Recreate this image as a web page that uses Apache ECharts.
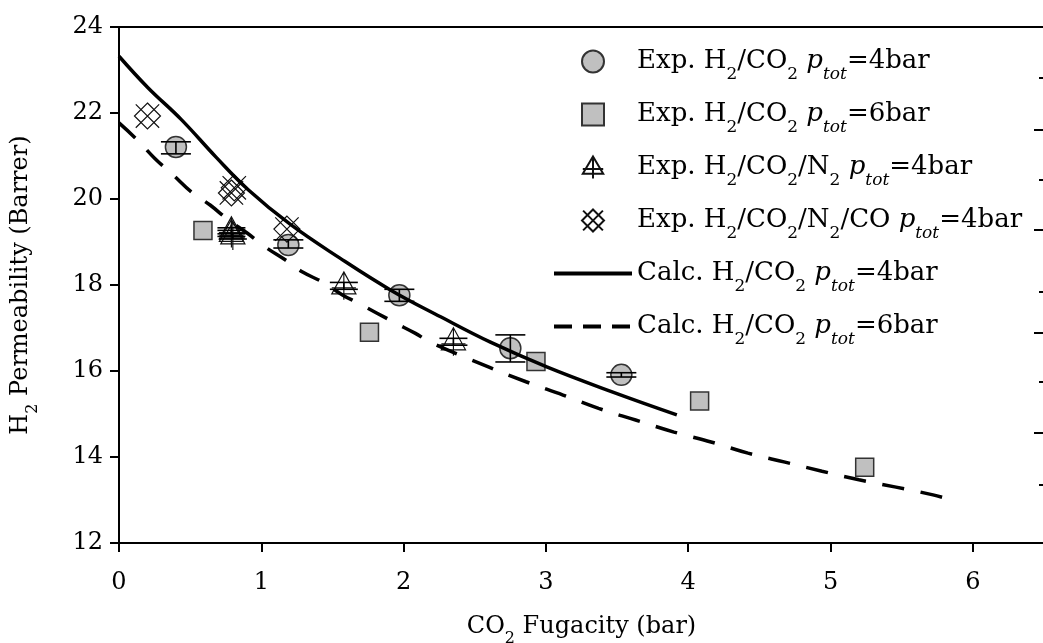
<!DOCTYPE html>
<html>
<head>
<meta charset="utf-8">
<script src="https://cdn.jsdelivr.net/npm/echarts@6/dist/echarts.min.js"></script>
<style>
html,body{margin:0;padding:0;background:#fff;}
#chart{width:1043px;height:643px;}
</style>
</head>
<body>
<div id="chart"></div>
<script>
// ---- Data ----
const xTicks = [0, 1, 2, 3, 4, 5, 6];
const yTicks = [12, 14, 16, 18, 20, 22, 24];

// Exp. H2/CO2 ptot=4bar : [fugacity, permeability, errLow, errHigh]
const exp4 = [
  [0.40, 21.21, 21.05, 21.33],
  [1.19, 18.93, 18.86, 19.05],
  [1.97, 17.76, 17.62, 17.90],
  [2.75, 16.53, 16.21, 16.84],
  [3.53, 15.91, 15.86, 15.96]
];
// Exp. H2/CO2 ptot=6bar
const exp6 = [
  [0.59, 19.27],
  [1.76, 16.90],
  [2.93, 16.22],
  [4.08, 15.30],
  [5.24, 13.76]
];
// Exp. H2/CO2/N2 ptot=4bar : [x, y, errLow, errHigh]
const expN2 = [
  [0.79, 19.26, 19.19, 19.33],
  [0.79, 19.20, 19.13, 19.27],
  [0.80, 19.14, 19.07, 19.21],
  [1.58, 17.98, 17.90, 18.06],
  [2.35, 16.68, 16.60, 16.76]
];
// Exp. H2/CO2/N2/CO ptot=4bar
const expCO = [
  [0.20, 21.93],
  [0.79, 20.14],
  [0.81, 20.26],
  [1.18, 19.30]
];
// Calc. H2/CO2 ptot=4bar
const calc4 = [
  [0, 23.32], [0.20, 22.60], [0.44, 21.84], [0.68, 20.98], [0.91, 20.21],
  [1.20, 19.42], [1.55, 18.63], [1.91, 17.88], [2.26, 17.26], [2.61, 16.67],
  [3.01, 16.09], [3.47, 15.51], [3.92, 14.98]
];
// Calc. H2/CO2 ptot=6bar
const calc6 = [
  [0, 21.77], [0.13, 21.37], [0.25, 20.95], [0.38, 20.56], [0.51, 20.16],
  [0.64, 19.86], [0.77, 19.51], [0.90, 19.21], [1.03, 18.88], [1.17, 18.58],
  [1.29, 18.30], [1.43, 18.07], [1.57, 17.77], [1.68, 17.58], [1.81, 17.35],
  [1.94, 17.12], [2.08, 16.88], [2.20, 16.65], [2.60, 16.09], [2.86, 15.75],
  [3.12, 15.44], [3.37, 15.13], [3.63, 14.86], [3.90, 14.58], [4.16, 14.35],
  [4.42, 14.09], [4.68, 13.88], [4.94, 13.67], [5.20, 13.47], [5.46, 13.30],
  [5.72, 13.12], [5.83, 13.02]
];
// right-hand frame ticks (values on the left scale)
const rightMajorTicks = [21.60, 19.28, 16.88, 14.56];
const rightMinorTicks = [22.81, 20.44, 17.84, 15.74, 13.35];

const seriesNames = [
  'Exp. H2/CO2 ptot=4bar',
  'Exp. H2/CO2 ptot=6bar',
  'Exp. H2/CO2/N2 ptot=4bar',
  'Exp. H2/CO2/N2/CO ptot=4bar',
  'Calc. H2/CO2 ptot=4bar',
  'Calc. H2/CO2 ptot=6bar'
];
const legendRich = {
  0: '{n|Exp. H}{s|2}{n|/CO}{s|2}{n| }{i|p}{is|tot}{n|=4bar}',
  1: '{n|Exp. H}{s|2}{n|/CO}{s|2}{n| }{i|p}{is|tot}{n|=6bar}',
  2: '{n|Exp. H}{s|2}{n|/CO}{s|2}{n|/N}{s|2}{n| }{i|p}{is|tot}{n|=4bar}',
  3: '{n|Exp. H}{s|2}{n|/CO}{s|2}{n|/N}{s|2}{n|/CO }{i|p}{is|tot}{n|=4bar}',
  4: '{n|Calc. H}{s|2}{n|/CO}{s|2}{n| }{i|p}{is|tot}{n|=4bar}',
  5: '{n|Calc. H}{s|2}{n|/CO}{s|2}{n| }{i|p}{is|tot}{n|=6bar}'
};

// ---- Styling ----
const FONT = 'DejaVu Serif';
const sqPath = 'path://M0 0 L10 0 L10 10 L0 10 Z';
const triPath = 'path://M13 0 L26 22 L0 22 Z M13 0 L13 28 M0 16 L26 16';
const xdPath = 'path://M12 2 L22 12 L12 22 L2 12 Z M3 3 L21 21 M21 3 L3 21';

function errBarRender(capW) {
  return function (params, api) {
    const x = api.value(0), lo = api.value(2), hi = api.value(3);
    const a = api.coord([x, lo]), b = api.coord([x, hi]);
    const h = capW / 2;
    const st = { stroke: '#000', lineWidth: 1.6 };
    return {
      type: 'group',
      children: [
        { type: 'line', shape: { x1: a[0], y1: a[1], x2: b[0], y2: b[1] }, style: st },
        { type: 'line', shape: { x1: a[0] - h, y1: a[1], x2: a[0] + h, y2: a[1] }, style: st },
        { type: 'line', shape: { x1: b[0] - h, y1: b[1], x2: b[0] + h, y2: b[1] }, style: st }
      ]
    };
  };
}

const subRich = {
  n: { fontFamily: FONT, fontSize: 26, color: '#000', lineHeight: 30, verticalAlign: 'middle' },
  s: { fontFamily: FONT, fontSize: 17, color: '#000', lineHeight: 17, padding: [26, 0, 0, 0], verticalAlign: 'middle' },
  i: { fontFamily: FONT, fontSize: 26, fontStyle: 'italic', color: '#000', lineHeight: 30, verticalAlign: 'middle' },
  is: { fontFamily: FONT, fontSize: 17, fontStyle: 'italic', color: '#000', lineHeight: 17, padding: [26, 0, 0, 0], verticalAlign: 'middle' }
};
const axisRich = {
  n: { fontFamily: FONT, fontSize: 24, color: '#000', lineHeight: 28, verticalAlign: 'middle' },
  s: { fontFamily: FONT, fontSize: 16, color: '#000', lineHeight: 16, padding: [24, 0, 0, 0], verticalAlign: 'middle' }
};

const chart = echarts.init(document.getElementById('chart'), null, { renderer: 'canvas' });
const lineAxis = { show: true, onZero: false, lineStyle: { color: '#000', width: 2 } };
const gridBox = { left: 119, top: 27, right: -1, bottom: 100, containLabel: false, outerBoundsMode: 'none' };

chart.setOption({
  animation: false,
  backgroundColor: '#fff',
  grid: [gridBox, Object.assign({}, gridBox)],
  legend: {
    orient: 'vertical',
    left: 552,
    top: 40,
    padding: 0,
    itemGap: 10,
    itemWidth: 78,
    itemHeight: 22,
    symbolKeepAspect: true,
    data: [
      { name: seriesNames[0] },
      { name: seriesNames[1], icon: sqPath },
      { name: seriesNames[2] },
      { name: seriesNames[3] },
      { name: seriesNames[4], itemStyle: { opacity: 0 }, lineStyle: { width: 4, color: '#000', type: 'solid' } },
      { name: seriesNames[5], itemStyle: { opacity: 0 }, lineStyle: { width: 4, color: '#000', type: [18, 11] } }
    ],
    formatter: function (name) { return legendRich[seriesNames.indexOf(name)]; },
    textStyle: { rich: subRich }
  },
  xAxis: [{
    type: 'value', min: 0, max: 6.5, position: 'bottom', gridIndex: 0,
    axisLine: lineAxis,
    axisTick: { show: true, inside: false, length: 9, lineStyle: { width: 2, color: '#000' }, customValues: xTicks },
    axisLabel: { customValues: xTicks, fontFamily: FONT, fontSize: 24, color: '#000', margin: 28 },
    splitLine: { show: false },
    name: '{n|CO}{s|2}{n| Fugacity (bar)}',
    nameLocation: 'middle', nameGap: 70,
    nameTextStyle: { rich: axisRich }
  }, {
    type: 'value', min: 0, max: 6.5, position: 'top', gridIndex: 0,
    axisLine: lineAxis, axisTick: { show: false }, axisLabel: { show: false }, splitLine: { show: false }
  }, {
    type: 'value', min: 0, max: 6.5, gridIndex: 1, show: false
  }],
  yAxis: [{
    type: 'value', min: 12, max: 24, interval: 2, position: 'left', gridIndex: 0,
    axisLine: lineAxis,
    axisTick: { show: true, inside: false, length: 9, lineStyle: { width: 2, color: '#000' }, customValues: yTicks },
    axisLabel: { customValues: yTicks, fontFamily: FONT, fontSize: 24, color: '#000', margin: 16 },
    splitLine: { show: false },
    name: '{n|H}{s|2}{n| Permeability (Barrer)}',
    nameLocation: 'middle', nameGap: 84, nameRotate: 90,
    nameTextStyle: { rich: axisRich }
  }, {
    type: 'value', min: 12, max: 24, position: 'right', gridIndex: 0,
    axisLine: lineAxis,
    axisTick: { show: true, inside: true, length: 10, lineStyle: { width: 2, color: '#000' }, customValues: rightMajorTicks },
    axisLabel: { show: false }, splitLine: { show: false }
  }, {
    type: 'value', min: 12, max: 24, position: 'right', gridIndex: 1,
    axisLine: lineAxis,
    axisTick: { show: true, inside: true, length: 5, lineStyle: { width: 2, color: '#000' }, customValues: rightMinorTicks },
    axisLabel: { show: false }, splitLine: { show: false }
  }],
  series: [
    {
      name: seriesNames[0], type: 'scatter', z: 2,
      data: exp4.map(d => [d[0], d[1]]),
      symbol: 'circle', symbolSize: 21,
      itemStyle: { color: '#c0c0c0', borderColor: '#333', borderWidth: 1.5, opacity: 1 }
    },
    {
      name: seriesNames[1], type: 'scatter', z: 2,
      data: exp6,
      symbol: sqPath, symbolSize: 18, symbolKeepAspect: true,
      itemStyle: { color: '#c0c0c0', borderColor: '#333', borderWidth: 1.5, opacity: 1 }
    },
    {
      name: seriesNames[2], type: 'scatter', z: 2,
      data: expN2.map(d => [d[0], d[1]]),
      symbol: triPath, symbolSize: [26, 28], symbolKeepAspect: true,
      itemStyle: { color: 'rgba(0,0,0,0)', borderColor: '#111', borderWidth: 1.2, opacity: 1 }
    },
    {
      name: seriesNames[3], type: 'scatter', z: 2,
      data: expCO,
      symbol: xdPath, symbolSize: 26, symbolKeepAspect: true,
      itemStyle: { color: 'rgba(0,0,0,0)', borderColor: '#111', borderWidth: 1.2, opacity: 1 }
    },
    {
      name: seriesNames[4], type: 'line', z: 4,
      data: calc4, smooth: 0.4, symbol: 'none', showSymbol: false,
      lineStyle: { color: '#000', width: 3.5, type: 'solid' },
      itemStyle: { color: '#000' }
    },
    {
      name: seriesNames[5], type: 'line', z: 4,
      data: calc6, smooth: 0.4, symbol: 'none', showSymbol: false,
      lineStyle: { color: '#000', width: 3.5, type: [22, 17] },
      itemStyle: { color: '#000' }
    },
    {
      name: 'errExp4', type: 'custom', z: 3,
      renderItem: errBarRender(30),
      data: exp4, encode: { x: 0, y: 1 }
    },
    {
      name: 'errN2', type: 'custom', z: 3,
      renderItem: errBarRender(28),
      data: expN2, encode: { x: 0, y: 1 }
    }
  ]
});
</script>
</body>
</html>
